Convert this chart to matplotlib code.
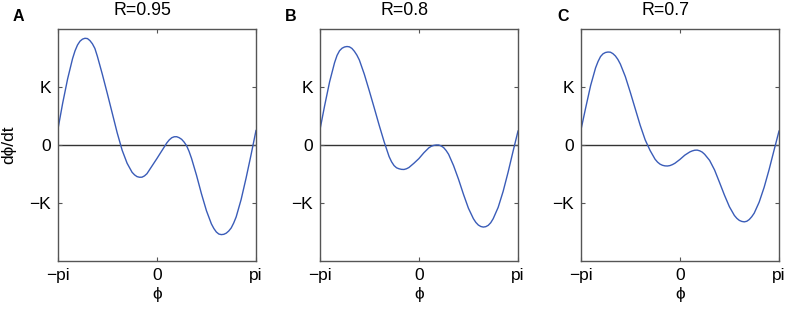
import numpy as np
import matplotlib
matplotlib.use("Agg")
import matplotlib.pyplot as plt

plt.rcParams['font.family'] = ['Liberation Sans', 'DejaVu Sans']

# phase values in units of pi, dphi/dt in units of K
phiA = [-1.00, -0.95, -0.90, -0.85, -0.825, -0.80, -0.775, -0.75, -0.725, -0.70, -0.675, -0.65,
        -0.625, -0.60, -0.55, -0.50, -0.45, -0.40, -0.35, -0.30, -0.25, -0.225, -0.20, -0.175,
        -0.15, -0.125, -0.10, -0.05, 0.00, 0.05, 0.10, 0.125, 0.15, 0.175, 0.20, 0.225, 0.25,
        0.275, 0.30, 0.325, 0.35, 0.40, 0.45, 0.50, 0.55, 0.575, 0.60, 0.625, 0.65, 0.675,
        0.70, 0.725, 0.75, 0.775, 0.80, 0.85, 0.90, 0.95, 1.00]
dA = [0.25, 0.72, 1.14, 1.49, 1.625, 1.725, 1.79, 1.825, 1.84, 1.835, 1.80, 1.745,
      1.665, 1.53, 1.22, 0.89, 0.55, 0.21, -0.09, -0.315, -0.47, -0.515, -0.545, -0.556,
      -0.555, -0.533, -0.495, -0.365, -0.235, -0.10, 0.035, 0.088, 0.125, 0.142, 0.143, 0.126, 0.098,
      0.05, -0.012, -0.11, -0.232, -0.522, -0.842, -1.132, -1.36, -1.44, -1.50, -1.535, -1.545, -1.54,
      -1.52, -1.483, -1.43, -1.345, -1.24, -0.94, -0.57, -0.17, 0.25]

phiB = [-1.00, -0.95, -0.90, -0.85, -0.825, -0.80, -0.775, -0.75, -0.725, -0.70, -0.675, -0.65,
        -0.625, -0.60, -0.55, -0.50, -0.45, -0.40, -0.35, -0.30, -0.275, -0.25, -0.225, -0.20,
        -0.175, -0.15, -0.125, -0.10, -0.05, 0.00, 0.05, 0.10, 0.125, 0.15, 0.175, 0.20, 0.225,
        0.25, 0.275, 0.30, 0.35, 0.40, 0.45, 0.50, 0.55, 0.575, 0.60, 0.625, 0.65, 0.675,
        0.70, 0.725, 0.75, 0.80, 0.85, 0.90, 0.95, 1.00]
dB = [0.24, 0.68, 1.09, 1.42, 1.545, 1.625, 1.668, 1.69, 1.698, 1.692, 1.665, 1.615,
      1.55, 1.465, 1.22, 0.935, 0.64, 0.34, 0.055, -0.20, -0.29, -0.355, -0.393, -0.41,
      -0.42, -0.422, -0.41, -0.388, -0.315, -0.235, -0.135, -0.05, -0.022, -0.007, 0.0, 0.0, -0.016,
      -0.045, -0.095, -0.16, -0.355, -0.59, -0.85, -1.09, -1.27, -1.335, -1.38, -1.405, -1.415, -1.408,
      -1.385, -1.34, -1.27, -1.075, -0.80, -0.47, -0.11, 0.24]

phiC = [-1.00, -0.95, -0.90, -0.85, -0.825, -0.80, -0.775, -0.75, -0.725, -0.70, -0.675, -0.65,
        -0.625, -0.60, -0.55, -0.50, -0.45, -0.40, -0.35, -0.30, -0.25, -0.225, -0.20, -0.175,
        -0.15, -0.125, -0.10, -0.075, -0.05, 0.00, 0.05, 0.10, 0.125, 0.15, 0.175, 0.20, 0.225,
        0.25, 0.30, 0.35, 0.40, 0.45, 0.50, 0.55, 0.575, 0.60, 0.625, 0.65, 0.675, 0.70,
        0.725, 0.75, 0.80, 0.85, 0.90, 0.95, 1.00]
dC = [0.24, 0.64, 1.025, 1.33, 1.44, 1.525, 1.572, 1.595, 1.603, 1.60, 1.575, 1.535,
      1.475, 1.395, 1.18, 0.91, 0.625, 0.34, 0.09, -0.095, -0.245, -0.295, -0.33, -0.35,
      -0.36, -0.362, -0.355, -0.338, -0.315, -0.25, -0.175, -0.12, -0.102, -0.09, -0.088, -0.10, -0.122,
      -0.16, -0.265, -0.43, -0.645, -0.865, -1.065, -1.215, -1.265, -1.30, -1.318, -1.325, -1.315, -1.285,
      -1.237, -1.175, -0.985, -0.73, -0.425, -0.09, 0.24]

titles = ["R=0.95", "R=0.8", "R=0.7"]
letters = ["A", "B", "C"]
xtick_labels = ["\u2212pi", "0", "pi"]
ytick_labels = ["\u2212K", "0", "K"]

series = [(phiA, dA), (phiB, dB), (phiC, dC)]

W, H = 787, 310
fig = plt.figure(figsize=(W / 100, H / 100), dpi=100)
lefts_px = [57.7, 319.7, 580.7]
letter_px = [13, 285, 557]
w_px = 198.3
b = (H - 261) / H
h = 232 / H
frame_col = '#555555'
line_col = '#3a5cb8'

for i, (ph, d) in enumerate(series):
    ax = fig.add_axes([lefts_px[i] / W, b, w_px / W, h])
    x = np.array(ph) * np.pi
    ax.axhline(0, color='#333333', lw=1.0, zorder=1)
    ax.plot(x, d, color=line_col, lw=1.0, zorder=2, solid_joinstyle='round')
    ax.set_xlim(-np.pi, np.pi)
    ax.set_ylim(-2, 2)
    ax.set_xticks([-np.pi, 0, np.pi])
    ax.set_xticklabels(xtick_labels)
    ax.set_yticks([-1, 0, 1])
    ax.set_yticklabels(ytick_labels)
    ax.tick_params(direction='in', length=3, width=0.8, color=frame_col,
                   top=True, right=True, labelsize=12.5, pad=5)
    for s in ax.spines.values():
        s.set_color(frame_col)
        s.set_linewidth(1.0)
    ax.set_xlabel("\u03d5", fontsize=12.5, labelpad=3)
    if i == 0:
        ax.set_ylabel("d\u03d5/dt", fontsize=12.5, labelpad=9)
    cx = (lefts_px[i] + w_px / 2 - 14) / W
    fig.text(cx, 1 - 15 / H, titles[i], fontsize=12.8, ha='center', va='baseline')
    fig.text(letter_px[i] / W, 1 - 21 / H, letters[i], fontsize=11.5,
             fontweight='bold', ha='left', va='baseline')

fig.savefig("out.png", dpi=100)
